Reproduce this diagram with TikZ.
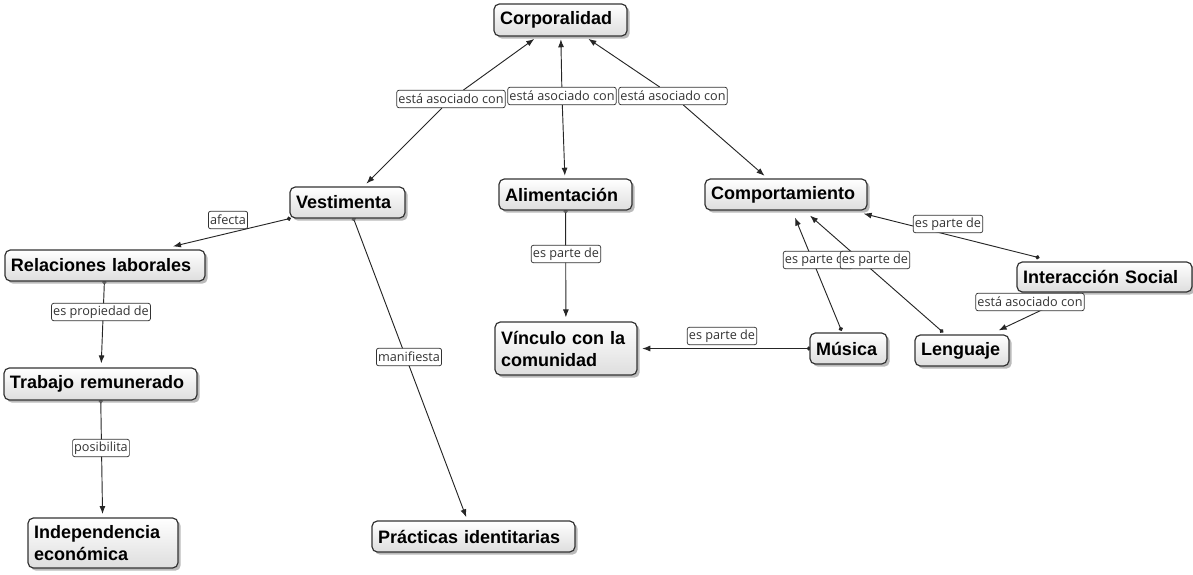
\documentclass[tikz,border=0pt]{standalone}
\usepackage{fontspec}
\setmainfont{Liberation Sans}
\newfontfamily\labfont{Open Sans}
\usetikzlibrary{arrows.meta,shadows,calc}
\pgfdeclarelayer{edges}
\pgfsetlayers{edges,main}
\begin{document}
\begin{tikzpicture}[x=0.75pt,y=-0.75pt,
  concept/.style={draw=black!80, line width=0.9pt, rounded corners=4pt,
    top color=white, bottom color=black!13,
    drop shadow={shadow xshift=2pt, shadow yshift=-2pt, fill=black!45, opacity=0.6},
    font=\bfseries\fontsize{13.5}{16.5}\selectfont, align=left,
    inner xsep=4.5pt, inner ysep=0pt},
  linkl/.style={draw=black!80, line width=0.55pt, rounded corners=1.5pt, fill=white,
    font=\labfont\fontsize{9.5}{11}\selectfont, text=black!80,
    inner xsep=1.2pt, inner ysep=0.5pt, minimum height=13pt},
  conn/.style={draw=black!85, line width=0.7pt, -{Latex[length=6pt,width=4.5pt]}},
  dconn/.style={draw=black!85, line width=0.7pt, shorten <=-1.2pt, {Circle[length=3.2pt]}-{Latex[length=6pt,width=4.5pt]}},
]
\useasboundingbox (0,0) rectangle (1193,575);

% concepts
\node[concept, text width=90.75pt, minimum height=24pt] (corp) at (560.5,20) {Corporalidad};
\node[concept, text width=77.25pt, minimum height=23.25pt] (vest) at (347.5,202.5) {Vestimenta};
\node[concept, text width=90.75pt, minimum height=23.25pt] (alim) at (565.5,194.5) {Alimentación};
\node[concept, text width=112.5pt, minimum height=23.25pt] (comp) at (786,194.5) {Comportamiento};
\node[concept, text width=141pt, minimum height=23.25pt] (rel) at (105,265.5) {Relaciones laborales};
\node[concept, text width=135.75pt, minimum height=24pt] (trab) at (100.5,384) {Trabajo remunerado};
\node[concept, text width=103.5pt, minimum height=37.5pt] (indep) at (103,543) {Independencia\\económica};
\node[concept, text width=143.25pt, minimum height=23.25pt] (prac) at (473.5,536.5) {Prácticas identitarias};
\node[concept, text width=97.5pt, minimum height=39.75pt] (vinc) at (566,348.5) {Vínculo con la\\comunidad};
\node[concept, text width=48.75pt, minimum height=23.25pt] (mus) at (848.5,348.5) {Música};
\node[concept, text width=61.5pt, minimum height=23.25pt] (leng) at (962,350.5) {Lenguaje};
\node[concept, text width=122.25pt, minimum height=22.5pt] (inter) at (1104.5,277) {Interacción Social};

% linking phrases
\node[linkl] (l1) at (451,99) {está asociado con};
\node[linkl] (l2) at (562,96) {está asociado con};
\node[linkl] (l3) at (673,96) {está asociado con};
\node[linkl] (la) at (228,220) {afecta};
\node[linkl] (lp) at (101,312) {es propiedad de};
\node[linkl] (lpo) at (101,448) {posibilita};
\node[linkl] (lm) at (409,357) {manifiesta};
\node[linkl] (lal) at (566,254) {es parte de};
\node[linkl] (lmv) at (722,336) {es parte de};
\node[linkl] (lmc) at (818,260) {es parte de};
\node[linkl] (llc) at (875,260) {es parte de};
\node[linkl] (lic) at (948,224) {es parte de};
\node[linkl] (lil) at (1030,302) {está asociado con};

% connectors
\begin{pgfonlayer}{edges}
\draw[conn, shorten >=3pt] (l1) -- (corp);
\draw[conn, shorten >=3pt] (l1) -- (vest);
\draw[conn, shorten >=2pt] (l2) -- (corp);
\draw[conn, shorten >=2pt] (l2) -- (alim);
\draw[conn, shorten >=3pt] (l3) -- (corp);
\draw[conn, shorten >=3pt] (l3) -- (comp);
\draw[dconn] (vest.south west) -- ($(rel.north)+(68,-3)$);
\draw[dconn, shorten >=3pt] (rel) -- (trab);
\draw[dconn, shorten >=2.5pt] (trab) -- (indep);
\draw[dconn, shorten >=2.5pt] (vest) -- (prac);
\draw[dconn, shorten >=3pt] (alim) -- (vinc);
\draw[dconn, shorten >=3.5pt] (mus) -- (vinc);
\draw[dconn] ($(mus.north)+(-7.5,-3)$) -- ($(comp.south)+(9,7)$);
\draw[dconn] ($(leng.north)+(-20,-3)$) -- ($(comp.south)+(24,5)$);
\draw[dconn] ($(inter.north)+(-66.5,-4)$) -- ($(comp.south east)+(-4,3)$);
\draw[conn] ($(inter.south)+(-26,0)$) -- ($(leng.north east)+(-11,-4)$);
\end{pgfonlayer}
\end{tikzpicture}
\end{document}
